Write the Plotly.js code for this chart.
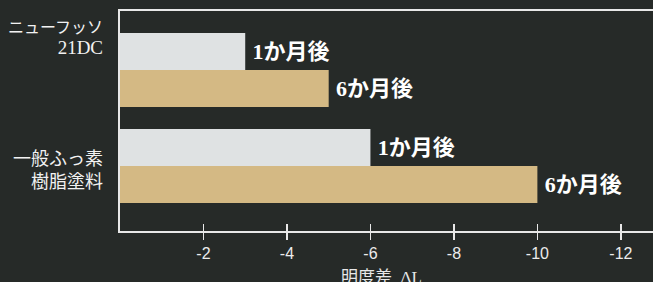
<!DOCTYPE html>
<html>
<head>
<meta charset="utf-8">
<script src="https://cdn.plot.ly/plotly-3.0.1.min.js"></script>
<style>html,body{margin:0;padding:0;background:#262a28;}#chart{width:653px;height:282px;}</style>
</head>
<body>
<div id="chart"></div>
<script>
// values
const categories = ["nf", "gen"];
const categoryLabels = ["ニューフッソ<br><span style=\"font-size:19px\">21DC</span>", "一般ふっ素<br>樹脂塗料"];
const seriesNames = ["1か月後", "6か月後"];
const values1m = [-3, -6];
const values6m = [-5, -10];
const tickVals = [-2, -4, -6, -8, -10, -12];
const tickText = ["-2", "-4", "-6", "-8", "-10", "-12"];
const xTitle = "明度差  ΔL";

const labelFont = {family: "Liberation Serif, Noto Sans CJK JP, serif", size: 22, color: "#ffffff", weight: "bold"};
const bar = (name, vals, color) => ({
  type: "bar", orientation: "h", name: name,
  y: categories, x: vals,
  marker: {color: color, line: {width: 0}},
  text: vals.map(() => "<b>\u2009" + name + "</b>"), textposition: "outside",
  textfont: labelFont, constraintext: "none", cliponaxis: false,
  hoverinfo: "none"
});

const data = [
  bar(seriesNames[0], values1m, "#dfe2e3"),
  bar(seriesNames[1], values6m, "#d4b984"),
  {type: "scatter", x: [], y: [], xaxis: "x2", yaxis: "y", showlegend: false, hoverinfo: "none"}
];

const xr = [0, -12.77];
const layout = {
  width: 653, height: 282,
  margin: {l: 120, r: 0, t: 11, b: 51},
  paper_bgcolor: "#262a28", plot_bgcolor: "#262a28",
  showlegend: false,
  barmode: "group", bargap: 0.23, bargroupgap: 0,
  xaxis: {
    range: xr, tickvals: tickVals, ticktext: tickText,
    ticks: "outside", ticklen: 7, tickwidth: 1.5, tickcolor: "#e8e8e8",
    showline: true, linecolor: "#e8e8e8", linewidth: 2, mirror: true,
    showgrid: false, zeroline: false,
    tickfont: {family: "Liberation Sans, Arial, sans-serif", size: 16, color: "#ececec"}
  },
  xaxis2: {
    range: xr, overlaying: "x", anchor: "y", side: "bottom",
    tickvals: tickVals, ticks: "inside", ticklen: 7, tickwidth: 1.5, tickcolor: "#e8e8e8",
    showticklabels: false, showline: false, showgrid: false, zeroline: false
  },
  yaxis: {
    type: "category", range: [1.677, -0.615],
    showticklabels: false, ticks: "",
    showline: true, linecolor: "#e8e8e8", linewidth: 2,
    showgrid: false, zeroline: false
  },
  annotations: [
    {xref: "paper", yref: "y", x: 0, y: categories[0], xanchor: "right", yanchor: "middle",
     xshift: -15, yshift: 32, text: categoryLabels[0], showarrow: false, align: "right",
     font: {family: "Liberation Serif, Noto Sans CJK JP, serif", size: 16, color: "#f2f2f2"}},
    {xref: "paper", yref: "y", x: 0, y: categories[1], xanchor: "right", yanchor: "middle",
     xshift: -15, yshift: -4, text: categoryLabels[1], showarrow: false, align: "right",
     font: {family: "Liberation Serif, Noto Sans CJK JP, serif", size: 18, color: "#f2f2f2"}},
    {xref: "paper", yref: "paper", x: 0.49, y: 0, xanchor: "center", yanchor: "top",
     yshift: -35, text: xTitle, showarrow: false,
     font: {family: "Liberation Serif, Noto Sans CJK JP, serif", size: 17, color: "#e8e8e8"}}
  ]
};
Plotly.newPlot("chart", data, layout, {staticPlot: true, displayModeBar: false});
</script>
</body>
</html>
